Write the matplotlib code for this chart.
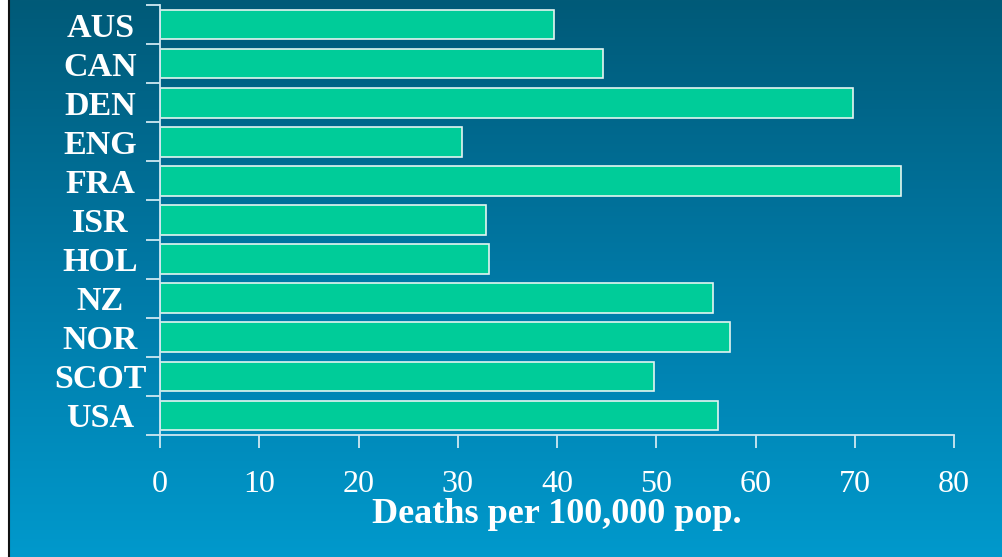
import numpy as np
import matplotlib
matplotlib.use("Agg")
from matplotlib import pyplot as plt
from matplotlib.colors import LinearSegmentedColormap

countries = ["AUS", "CAN", "DEN", "ENG", "FRA", "ISR", "HOL", "NZ", "NOR", "SCOT", "USA"]
deaths = [39.7, 44.6, 69.8, 30.4, 74.7, 32.8, 33.1, 55.7, 57.4, 49.8, 56.2]
xticks = [0, 10, 20, 30, 40, 50, 60, 70, 80]

plt.rcParams['font.family'] = ['Liberation Serif', 'DejaVu Serif']

W, H = 1002, 557
fig = plt.figure(figsize=(W / 100, H / 100), dpi=100, facecolor="white")

# gradient background
bg = fig.add_axes([9 / W, 0, 1 - 9 / W, 1], zorder=0)
grad = np.linspace(0, 1, 256).reshape(-1, 1)
cmap = LinearSegmentedColormap.from_list("bg", ["#015a78", "#0079a6", "#0099cc"])
bg.imshow(grad, aspect="auto", cmap=cmap, extent=[0, 1, 1, 0])
bg.set_xlim(0, 1)
bg.set_ylim(1, 0)
bg.axis("off")
fig.add_artist(plt.Line2D([8.5 / W, 8.5 / W], [0, 1], color="#111111", lw=1.5))

ax = fig.add_axes([160 / W, (H - 435) / H, (954 - 160) / W, (435 - 5) / H], zorder=1)
ax.patch.set_alpha(0)
pos = np.arange(len(countries))
ax.barh(pos, deaths, height=0.76, color="#00cc99", edgecolor="#e4f4f0", linewidth=1.2)

ax.set_xlim(0, 80)
ax.set_ylim(len(countries) - 0.5, -0.5)

line_col = "#cfe8f2"
for s in ["top", "right"]:
    ax.spines[s].set_visible(False)
for s in ["left", "bottom"]:
    ax.spines[s].set_color(line_col)
    ax.spines[s].set_linewidth(1.3)

ax.set_xticks(xticks)
ax.set_xticklabels([str(t) for t in xticks])
ax.tick_params(axis="x", colors=line_col, length=9, width=1.3, pad=16, labelsize=23,
               labelcolor="white")

ax.set_yticks(np.arange(-0.5, len(countries), 1.0))
ax.set_yticklabels([])
ax.set_yticks(pos, minor=True)
ax.set_yticklabels(countries, minor=True, fontweight="bold", fontsize=24.5, color="white", ha="center")
ax.tick_params(axis="y", which="major", colors=line_col, length=10, width=1.3)
ax.tick_params(axis="y", which="minor", length=0, pad=43)

fig.text(557 / W, 1 - 523 / H, "Deaths per 100,000 pop.", ha="center", va="baseline",
         fontsize=26, fontweight="bold", color="white")

fig.savefig("out.png", dpi=100, facecolor=fig.get_facecolor())
